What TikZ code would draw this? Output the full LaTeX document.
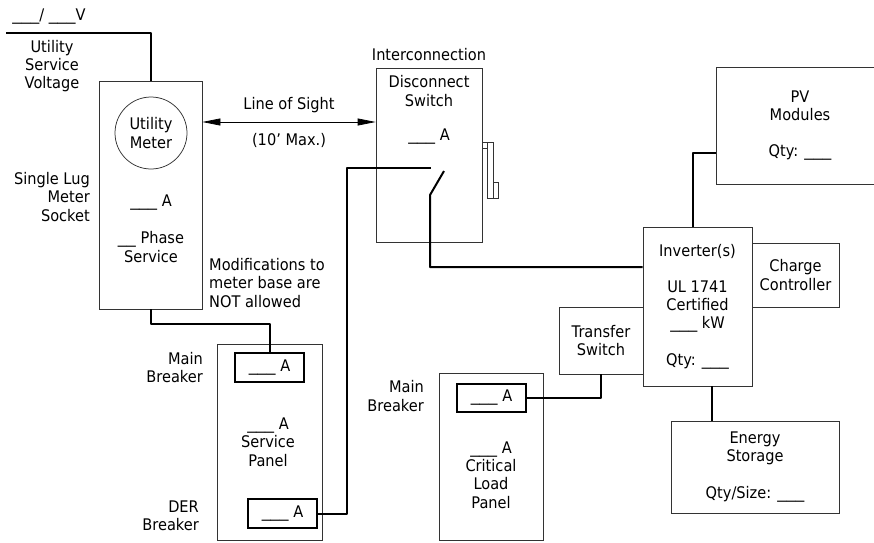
\documentclass[tikz,border=0pt]{standalone}
\usepackage{fontspec}
\setmainfont[FakeStretch=0.91]{DejaVu Sans}
\newfontfamily\ulfont[FakeStretch=1.12]{DejaVu Sans}
\newcommand{\blank}[1]{{\ulfont\foreach \n in {1,...,#1}{\_}}}
\usetikzlibrary{arrows.meta,calc}
\tikzset{
  x=1pt,y=-1pt,
  box/.style={draw=black!80,line width=0.75pt,inner sep=0pt,align=center,font=\fontsize{16}{18.3}\selectfont},
  brk/.style={box,draw=black,line width=1.7pt},
  txt/.style={inner sep=0pt,align=center,font=\fontsize{16}{18.3}\selectfont},
  wire/.style={draw=black,line width=2pt,line join=round},
  sight/.style={draw=black,line width=0.75pt,{Triangle[length=18pt,width=7pt]}-{Triangle[length=18pt,width=7pt]}}
}
\begin{document}
\begin{tikzpicture}
\useasboundingbox (0,0) rectangle (874,542);
\begin{scope}
\clip (0,0) rectangle (874,542);
\node[box,minimum width=168,minimum height=117] (pv) at (800,125.5) {PV\\Modules\\[18pt]Qty: \blank{3}};
\end{scope}
\node[box,minimum width=103,minimum height=228] (socket) at (150.5,195) {};
\node[box,circle,minimum size=72] (meter) at (151,133) {Utility\\Meter};
\node[box,minimum width=106,minimum height=174] (disc) at (429,155) {};
\node[box,minimum width=109,minimum height=159] (inv) at (697.5,306.5) {Inverter(s)\\[18pt]UL 1741\\Certified\\\blank{3} kW\\[18pt]Qty: \blank{3}};
\node[box,minimum width=87,minimum height=64] (cc) at (795.5,275) {Charge\\Controller};
\node[box,minimum width=84,minimum height=67] (ts) at (601,340.5) {Transfer\\Switch};
\node[box,minimum width=168,minimum height=92] (es) at (755,467) {Energy\\Storage\\[18pt]Qty/Size: \blank{3}};
\node[box,minimum width=104,minimum height=167] (crit) at (491,456.5) {};
\node[brk,minimum width=69,minimum height=28] (mb2) at (491.5,398) {\blank{3} A};
\node[box,minimum width=105,minimum height=196] (serv) at (269.5,442) {};
\node[brk,minimum width=69,minimum height=29] (mb1) at (269.5,367.5) {\blank{3} A};
\node[brk,minimum width=69,minimum height=29] (der) at (282.5,513.5) {\blank{3} A};
% handle
\node[box,minimum width=6,minimum height=56] (hnd) at (490,170) {};
\node[box,minimum width=5,minimum height=6] (hnda) at (484.5,145) {};
\node[box,minimum width=5,minimum height=16] (hndb) at (495.5,190) {};
% labels
\node[txt] (volt) at (49,17) {\blank{3}/ \blank{3}V};
\node[txt] (usv) at (52,66) {Utility\\Service\\Voltage};
\node[txt,anchor=east,align=right] (sls) at (90,197) {Single Lug\\Meter\\Socket};
\node[txt] (sa) at (151,203) {\blank{3} A};
\node[txt] (ph) at (151,247) {\blank{2} Phase\\Service};
\node[txt,anchor=west,align=left] (mods) at (209,283) {Modifications to\\meter base are\\NOT allowed};
\node[txt] (los) at (289,105) {Line of Sight};
\node[txt] (max) at (289,140) {(10' Max.)};
\node[txt] (ic) at (429,55) {Interconnection};
\node[txt] (ds) at (429,91) {Disconnect\\Switch};
\node[txt] (da) at (429,137) {\blank{3} A};
\node[txt,anchor=east,align=right] (mbl1) at (203,367.5) {Main\\Breaker};
\node[txt,anchor=east,align=right] (derl) at (199,516) {DER\\Breaker};
\node[txt] (spt) at (268,442) {\blank{3} A\\Service\\Panel};
\node[txt,anchor=east,align=right] (mbl2) at (424,396) {Main\\Breaker};
\node[txt] (cpt) at (491,475) {\blank{3} A\\Critical\\Load\\Panel};
% connectors
\coordinate (uend) at (6,33);
\draw[wire] (uend) -| (socket.north);
\coordinate (sighty) at (0,122);
\draw[sight] (socket.east |- sighty) -- (disc.west |- sighty);
\draw[wire] (socket.south) |- ($(mb1.north)+(0,-28)$) -- (mb1.north);
\coordinate (swa) at (431,168);
\draw[wire] (der.east) -| (347,168) -- (swa);
\coordinate (swb) at (444,171);
\coordinate (swc) at (430,195);
\draw[wire] (swb) -- (swc) -- (430,267) -- (inv.west |- 430,267);
\draw[wire] (inv.north -| 693,0) -- (693,153) -- (pv.west |- 0,153);
\draw[wire] (es.north -| 712,0) -- (inv.south -| 712,0);
\draw[wire] (mb2.east) -| (ts.south);
\end{tikzpicture}
\end{document}
